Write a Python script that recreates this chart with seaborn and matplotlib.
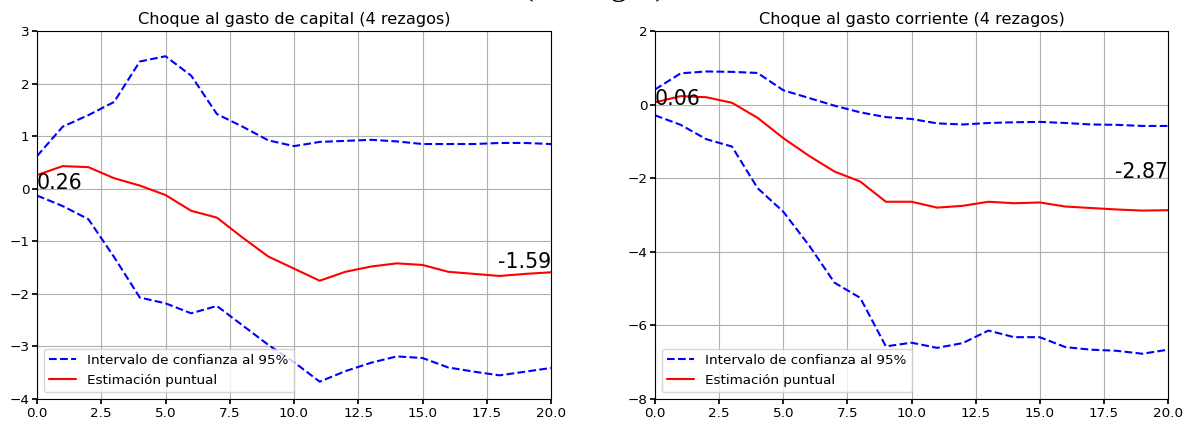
import matplotlib
matplotlib.use("Agg")
import matplotlib.pyplot as plt
import seaborn as sns

# horizonte (trimestres)
periods = list(range(21))

# Choque al gasto de capital
cap_upper = [0.62, 1.18, 1.40, 1.65, 2.42, 2.52, 2.15, 1.42, 1.18, 0.92, 0.81,
             0.89, 0.91, 0.93, 0.90, 0.85, 0.85, 0.85, 0.87, 0.87, 0.85]
cap_point = [0.26, 0.43, 0.41, 0.20, 0.06, -0.12, -0.42, -0.55, -0.93, -1.29, -1.52,
             -1.75, -1.58, -1.48, -1.42, -1.45, -1.58, -1.62, -1.66, -1.62, -1.59]
cap_lower = [-0.13, -0.33, -0.58, -1.30, -2.07, -2.18, -2.37, -2.23, -2.60, -2.97, -3.30,
             -3.67, -3.47, -3.31, -3.19, -3.22, -3.40, -3.48, -3.55, -3.48, -3.41]

# Choque al gasto corriente
cor_upper = [0.41, 0.85, 0.90, 0.89, 0.86, 0.39, 0.18, -0.03, -0.21, -0.34, -0.39,
             -0.51, -0.54, -0.50, -0.48, -0.47, -0.50, -0.54, -0.55, -0.58, -0.58]
cor_point = [0.06, 0.23, 0.20, 0.05, -0.36, -0.91, -1.39, -1.82, -2.09, -2.64, -2.64,
             -2.80, -2.75, -2.64, -2.68, -2.66, -2.77, -2.81, -2.85, -2.88, -2.87]
cor_lower = [-0.29, -0.55, -0.94, -1.14, -2.27, -2.91, -3.82, -4.84, -5.25, -6.57, -6.47,
             -6.61, -6.48, -6.14, -6.32, -6.32, -6.59, -6.66, -6.69, -6.77, -6.66]

titles = ["Choque al gasto de capital (4 rezagos)", "Choque al gasto corriente (4 rezagos)"]

sns.set_theme(style="whitegrid", rc={
    "axes.edgecolor": "black",
    "axes.linewidth": 0.8,
    "grid.color": "#b0b0b0",
    "grid.linewidth": 0.8,
    "xtick.bottom": True,
    "ytick.left": True,
    "xtick.major.size": 3.5,
    "ytick.major.size": 3.5,
    "xtick.color": "black",
    "ytick.color": "black",
    "text.color": "black",
})
plt.rcParams["font.family"] = ["DejaVu Sans"]

fig = plt.figure(figsize=(11.88, 4.24), dpi=100)
ax1 = fig.add_axes([37 / 1188, 25 / 424, 514 / 1188, 368 / 424])
ax2 = fig.add_axes([655 / 1188, 25 / 424, 513 / 1188, 368 / 424])

panels = [
    (ax1, cap_upper, cap_point, cap_lower, (-4, 3), 1, 0.0, -1.50),
    (ax2, cor_upper, cor_point, cor_lower, (-8, 2), 2, 0.0, -2.0),
]

for i, (ax, up, pt, lo, ylim, ystep, y_first, y_last) in enumerate(panels):
    sns.lineplot(x=periods, y=up, ax=ax, color="blue", linestyle="--", linewidth=1.5,
                 label="Intervalo de confianza al 95%")
    sns.lineplot(x=periods, y=lo, ax=ax, color="blue", linestyle="--", linewidth=1.5)
    sns.lineplot(x=periods, y=pt, ax=ax, color="red", linewidth=1.5, label="Estimación puntual")

    ax.set_xlim(0, 20)
    ax.set_ylim(*ylim)
    ax.set_xticks([0, 2.5, 5, 7.5, 10, 12.5, 15, 17.5, 20])
    ax.set_xticklabels(["0.0", "2.5", "5.0", "7.5", "10.0", "12.5", "15.0", "17.5", "20.0"])
    ax.set_yticks(range(ylim[0], ylim[1] + 1, ystep))
    ax.tick_params(labelsize=9.7, pad=2)
    ax.grid(True)
    ax.set_title(titles[i], fontsize=11.6, pad=5)

    ax.text(periods[0], y_first, f"{pt[0]:.2f}", fontsize=14.8, ha="left", va="baseline")
    ax.text(periods[-1], y_last, f"{pt[-1]:.2f}", fontsize=14.8, ha="right", va="baseline")

    ax.legend(loc="lower left", fontsize=9.7, frameon=True, framealpha=0.8,
              edgecolor="#cccccc", fancybox=True)

# caption cropped at the top of the original screenshot
fig.text(0.5, 1 + 5 / 424, "(4 rezagos)", ha="center", va="baseline",
         fontsize=23, family="Liberation Serif")

fig.savefig("out.png", dpi=100)
